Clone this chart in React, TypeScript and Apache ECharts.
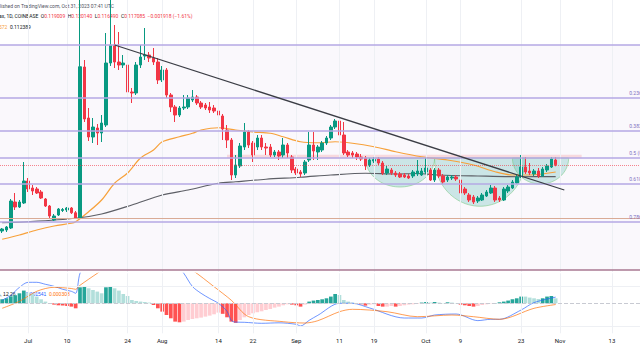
import React, { useEffect, useRef } from 'react';
import * as echarts from 'echarts';

// ---------- data ----------
const FIRST_DAY_UTC = Date.UTC(2023, 5, 25);
const N_CATS = 148;
const tickDates = ['2023-07-01','2023-07-10','2023-07-24','2023-08-01','2023-08-14','2023-08-22','2023-09-01','2023-09-11','2023-09-19','2023-10-01','2023-10-09','2023-10-23','2023-11-01','2023-11-13'];
const tickLabels = ['Jul','10','24','Aug','14','22','Sep','11','19','Oct','9','23','Nov','13'];

// open, close, low, high  (Jun 25 .. Oct 31, 2023)
const candles = [
  [0.0906,0.0914,0.0898,0.0918],[0.0910,0.0922,0.0902,0.0926],[0.0918,0.1026,0.0914,0.1034],[0.1022,0.1002,0.0990,0.1058],
  [0.1002,0.1022,0.0998,0.1030],[0.1018,0.1106,0.1014,0.1182],[0.1106,0.1074,0.1062,0.1118],[0.1078,0.1066,0.1050,0.1090],
  [0.1074,0.1058,0.1054,0.1082],[0.1062,0.1038,0.1034,0.1070],[0.1034,0.1006,0.1002,0.1038],[0.1006,0.0966,0.0958,0.1010],
  [0.0950,0.0966,0.0946,0.0974],[0.0970,0.0994,0.0966,0.0998],[0.0988,0.0992,0.0982,0.0998],[0.0990,0.0998,0.0982,0.1002],
  [0.0998,0.0979,0.0974,0.1002],[0.0979,0.0957,0.0954,0.0986],[0.0957,0.1563,0.0954,0.1860],[0.1562,0.1354,0.1342,0.1590],
  [0.1358,0.1282,0.1266,0.1398],[0.1282,0.1322,0.1258,0.1358],[0.1318,0.1298,0.1250,0.1334],[0.1298,0.1338,0.1262,0.1370],
  [0.1330,0.1578,0.1322,0.1698],[0.1578,0.1650,0.1566,0.1840],[0.1650,0.1582,0.1558,0.1730],[0.1582,0.1570,0.1550,0.1702],
  [0.1570,0.1578,0.1558,0.1610],[0.1570,0.1462,0.1446,0.1590],[0.1462,0.1458,0.1418,0.1478],[0.1458,0.1570,0.1450,0.1582],
  [0.1570,0.1602,0.1558,0.1650],[0.1606,0.1610,0.1590,0.1718],[0.1610,0.1598,0.1582,0.1622],[0.1598,0.1582,0.1570,0.1638],
  [0.1582,0.1510,0.1494,0.1598],[0.1510,0.1550,0.1502,0.1566],[0.1550,0.1450,0.1438,0.1558],[0.1450,0.1402,0.1382,0.1458],
  [0.1402,0.1370,0.1342,0.1410],[0.1370,0.1398,0.1362,0.1406],[0.1398,0.1402,0.1390,0.1450],[0.1402,0.1438,0.1394,0.1450],
  [0.1430,0.1442,0.1422,0.1470],[0.1442,0.1418,0.1410,0.1450],[0.1418,0.1402,0.1394,0.1426],[0.1410,0.1398,0.1390,0.1418],
  [0.1402,0.1390,0.1378,0.1422],[0.1398,0.1386,0.1378,0.1410],[0.1386,0.1370,0.1362,0.1394],[0.1366,0.1314,0.1270,0.1374],
  [0.1310,0.1270,0.1238,0.1330],[0.1270,0.1130,0.1110,0.1278],[0.1130,0.1170,0.1118,0.1210],[0.1166,0.1246,0.1158,0.1258],
  [0.1242,0.1302,0.1230,0.1338],[0.1302,0.1250,0.1238,0.1310],[0.1258,0.1210,0.1182,0.1266],[0.1242,0.1278,0.1230,0.1290],
  [0.1278,0.1242,0.1230,0.1290],[0.1242,0.1238,0.1210,0.1258],[0.1242,0.1210,0.1202,0.1254],[0.1210,0.1222,0.1202,0.1230],
  [0.1222,0.1206,0.1190,0.1230],[0.1210,0.1250,0.1198,0.1278],[0.1250,0.1218,0.1198,0.1258],[0.1202,0.1150,0.1138,0.1210],
  [0.1154,0.1138,0.1130,0.1162],[0.1142,0.1134,0.1122,0.1150],[0.1138,0.1182,0.1130,0.1190],[0.1190,0.1250,0.1182,0.1302],
  [0.1250,0.1226,0.1190,0.1302],[0.1222,0.1242,0.1190,0.1250],[0.1230,0.1258,0.1222,0.1266],[0.1258,0.1278,0.1250,0.1286],
  [0.1278,0.1322,0.1270,0.1330],[0.1322,0.1346,0.1314,0.1354],[0.1346,0.1290,0.1282,0.1358],[0.1290,0.1218,0.1210,0.1342],
  [0.1222,0.1210,0.1202,0.1230],[0.1218,0.1210,0.1198,0.1226],[0.1214,0.1202,0.1190,0.1222],[0.1202,0.1194,0.1186,0.1214],
  [0.1198,0.1166,0.1150,0.1206],[0.1170,0.1190,0.1162,0.1198],[0.1186,0.1192,0.1178,0.1202],[0.1194,0.1178,0.1170,0.1202],
  [0.1178,0.1138,0.1130,0.1186],[0.1138,0.1154,0.1130,0.1166],[0.1150,0.1138,0.1130,0.1158],[0.1138,0.1130,0.1122,0.1146],
  [0.1134,0.1122,0.1118,0.1142],[0.1130,0.1122,0.1118,0.1138],[0.1126,0.1118,0.1114,0.1134],[0.1126,0.1142,0.1118,0.1150],
  [0.1134,0.1146,0.1126,0.1190],[0.1130,0.1146,0.1126,0.1158],[0.1142,0.1158,0.1134,0.1198],[0.1150,0.1110,0.1106,0.1158],
  [0.1110,0.1150,0.1102,0.1158],[0.1150,0.1126,0.1118,0.1158],[0.1126,0.1102,0.1094,0.1134],[0.1110,0.1122,0.1102,0.1130],
  [0.1118,0.1122,0.1110,0.1130],[0.1122,0.1114,0.1106,0.1130],[0.1110,0.1058,0.1050,0.1118],[0.1074,0.1058,0.1050,0.1082],
  [0.1050,0.1030,0.1022,0.1058],[0.1042,0.1022,0.1014,0.1050],[0.1026,0.1038,0.1018,0.1046],[0.1030,0.1050,0.1026,0.1058],
  [0.1046,0.1062,0.1042,0.1070],[0.1058,0.1078,0.1054,0.1090],[0.1078,0.1030,0.1022,0.1086],[0.1038,0.1030,0.1022,0.1046],
  [0.1030,0.1074,0.1026,0.1082],[0.1066,0.1082,0.1058,0.1090],[0.1078,0.1102,0.1074,0.1110],[0.1098,0.1122,0.1094,0.1130],
  [0.1122,0.1162,0.1118,0.1210],[0.1162,0.1142,0.1134,0.1202],[0.1146,0.1138,0.1130,0.1178],[0.1134,0.1146,0.1126,0.1154],
  [0.1146,0.1126,0.1118,0.1158],[0.1126,0.1154,0.1122,0.1162],[0.1150,0.1166,0.1142,0.1174],[0.1162,0.1194,0.1158,0.1202],
  [0.119009,0.117085,0.11649,0.12014],
];

// moving averages (null where not read)
const maOrangePts: [number, number][] = [[0,0.0873],[4,0.0890],[8,0.0910],[12,0.0926],[16,0.0937],[17,0.0943],[20,0.0983],[23,0.1030],[26,0.1097],[29,0.1138],[32,0.1198],[35,0.1230],[37,0.1263],[41,0.1283],[44,0.1297],[46,0.1310],[50,0.1319],[54,0.1310],[58,0.1302],[62,0.1297],[65,0.1283],[69,0.1263],[73,0.1259],[77,0.1263],[81,0.1257],[86,0.1243],[91,0.1223],[97,0.1203],[103,0.1190],[109,0.1170],[114,0.1143],[118,0.1130],[122,0.1130],[128,0.1142]];
const maGrayPts: [number, number][] = [[0,0.0939],[6,0.0943],[17,0.0957],[23,0.0974],[30,0.1010],[37,0.1050],[43,0.1070],[50,0.1097],[54,0.1103],[61,0.1113],[69,0.1121],[76,0.1130],[84,0.1137],[91,0.1134],[96,0.1136],[101,0.1130],[110,0.1126],[120,0.1123],[128,0.112389]];

const trendLine: [number, number][] = [[26, 0.165], [130, 0.107]];

const fibHigh = 0.165;
const fibLow = 0.075;
const fibRatios = [0, 0.236, 0.382, 0.5, 0.618, 0.786, 1];
const extraLevel = 0.0957;
const lastClose = 0.117085;
const zoneTop = 0.1211;
const zoneBottom = 0.1197;
const zoneStart = 52;
const zoneEnd = 134;

// bowls: startIdx, endIdx, rim price, bottom price
const bowls = [
  [84, 100, 0.1198, 0.1082],
  [100, 121, 0.1198, 0.1005],
  [118, 131, 0.1198, 0.1094],
];

const macdHist = [
  0.001,0.00125,0.00175,0.002,0.0025,0.00318,0.00268,0.00233,0.00168,0.001,0.00043,-0.00008,-0.00033,-0.0005,-0.00058,-0.00068,-0.00083,-0.00125,
  0.004,0.00408,0.00375,0.00333,0.00293,0.0025,0.004,0.00408,0.00375,0.00318,0.00233,0.00183,0.00083,0.00058,0.00043,0.00033,0.00018,
  -0.00043,-0.00125,-0.00208,-0.00293,-0.00375,-0.00458,-0.00475,-0.00458,-0.00418,-0.00393,-0.00375,-0.00358,-0.00333,-0.00308,-0.00275,-0.00233,
  -0.00263,-0.0035,-0.00458,-0.00488,-0.00418,-0.0035,-0.00293,-0.0025,-0.00225,-0.002,-0.00168,-0.00143,-0.00108,-0.00083,-0.0005,-0.00025,
  -0.00033,-0.0005,-0.00083,-0.00033,0.00043,0.00068,0.00083,0.001,0.00125,0.00168,0.00233,0.00208,0.00083,0.00043,0.00018,0.00008,
  -0.00025,-0.00058,-0.00033,-0.00025,-0.00068,-0.00083,-0.00083,-0.00068,-0.00083,-0.00068,-0.0005,-0.00033,-0.00025,-0.00018,
  0.00018,0.00033,0.00018,0.00033,0.00018,0.00008,0.00025,0.00018,0.00008,
  -0.00033,-0.0005,-0.00068,-0.00083,-0.00068,-0.00043,-0.00025,-0.00008,
  0.00008,0.00025,0.00043,0.00068,0.001,0.00125,0.00168,0.00168,0.00143,0.00125,0.00108,0.00125,0.00168,0.00183,0.00125,
];
const macdPts: [number, number][] = [[0,0.00075],[2,0.002],[4,0.004],[6,0.00525],[8,0.00525],[10,0.00475],[12,0.00425],[14,0.0035],[16,0.003],[17,0.0025],[18,0.0075],[20,0.01125],[24,0.01375],[30,0.015],[36,0.0125],[40,0.01],[42,0.0075],[44,0.0042],[46,0.0025],[48,0.0012],[50,0],[52,-0.002],[53,-0.0043],[54,-0.0047],[56,-0.00475],[60,-0.005],[64,-0.00488],[68,-0.00525],[69,-0.00568],[71,-0.00425],[73,-0.003],[78,0],[81,0],[85,-0.00118],[93,-0.00368],[97,-0.00368],[100,-0.00293],[105,-0.00268],[110,-0.00433],[113,-0.004],[115,-0.004],[120,-0.00168],[123,0.00018],[128,0.001541]];
const signalPts: [number, number][] = [[0,-0.00125],[4,0.0005],[8,0.003],[12,0.004],[16,0.0037],[17,0.0035],[18,0.0045],[22,0.0075],[26,0.0105],[32,0.0125],[38,0.012],[44,0.00825],[49,0.00415],[53,0.00075],[57,-0.00335],[65,-0.0046],[70,-0.00493],[73,-0.00435],[78,-0.0021],[81,-0.0015],[89,-0.0021],[96,-0.00335],[104,-0.00293],[109,-0.00335],[115,-0.004],[123,-0.00125],[128,-0.000308]];
const macdGridLevels = [0.00415, -0.0057];

// ---------- helpers ----------
function buildDates(): string[] {
  const out: string[] = [];
  for (let i = 0; i < N_CATS; i++) out.push(new Date(FIRST_DAY_UTC + i * 86400000).toISOString().slice(0, 10));
  return out;
}
function sparse(pts: [number, number][]): (number | null)[] {
  const arr: (number | null)[] = new Array(candles.length).fill(null);
  pts.forEach(([i, v]) => { arr[i] = v; });
  return arr;
}

export default function App() {
  const ref = useRef<HTMLDivElement>(null);
  useEffect(() => {
    if (!ref.current) return;
    const chart = echarts.init(ref.current, undefined, { renderer: 'svg' });
    const cats = buildDates();
    const gridL = -2.78, gridW = 646.2;
    const fibPrice = (r: number) => fibHigh - r * (fibHigh - fibLow);
    const fibColor = '#b4a8e4';
    const vGrid = tickDates.map((d) => ({ xAxis: d }));

    const option: any = {
      animation: false,
      backgroundColor: '#ffffff',
      grid: [
        { left: gridL, top: 0, width: gridW, height: 272, containLabel: false },
        { left: gridL, top: 273.3, width: gridW, height: 60, containLabel: false },
      ],
      xAxis: [
        { type: 'category', gridIndex: 0, data: cats, boundaryGap: true, axisLine: { show: false }, axisTick: { show: false }, axisLabel: { show: false }, splitLine: { show: false } },
        {
          type: 'category', gridIndex: 1, data: cats, boundaryGap: true,
          axisLine: { show: false }, axisTick: { show: false }, splitLine: { show: false },
          axisLabel: {
            show: true, margin: 4, fontSize: 6, color: '#131722', fontFamily: 'Roboto',
            interval: (_i: number, v: string) => tickDates.includes(v),
            formatter: (v: string) => tickLabels[tickDates.indexOf(v)] ?? '',
          },
        },
      ],
      yAxis: [
        { type: 'value', gridIndex: 0, min: 0.0742, max: 0.183, show: false, splitLine: { show: false } },
        { type: 'value', gridIndex: 1, min: -0.0075, max: 0.0075, show: false, splitLine: { show: false } },
      ],
      graphic: [
        { type: 'text', x: -9, y: 5.5, silent: true, style: { text: 'Published on TradingView.com, Oct 31, 2023 07:41 UTC', fill: '#50535e', fontSize: 5, fontFamily: 'Roboto', verticalAlign: 'middle' } },
        {
          type: 'text', x: -1, y: 16, silent: true,
          style: {
            text: '{d|ax, 1D, COINBASE}  {d|O}{r|0.119009}  {d|H}{r|0.120140}  {d|L}{r|0.116490}  {d|C}{r|0.117085}  {r|−0.001918 (−1.61%)}',
            fontSize: 5, fontFamily: 'Roboto', verticalAlign: 'middle',
            rich: { d: { fill: '#131722', fontSize: 5, fontFamily: 'Roboto' }, r: { fill: '#f23645', fontSize: 5, fontFamily: 'Roboto' } },
          },
        },
        {
          type: 'text', x: -1, y: 27, silent: true,
          style: {
            text: '{o|572}  {d|0.112389}', fontSize: 5, fontFamily: 'Roboto', verticalAlign: 'middle',
            rich: { d: { fill: '#131722', fontSize: 5, fontFamily: 'Roboto' }, o: { fill: '#f7a13a', fontSize: 5, fontFamily: 'Roboto' } },
          },
        },
        {
          type: 'text', x: -3, y: 293.5, silent: true,
          style: {
            text: '{d|A, 12 26}        {b|0.001541}  {o|0.000308}', fontSize: 5, fontFamily: 'Roboto', verticalAlign: 'middle',
            rich: { d: { fill: '#131722', fontSize: 5 }, b: { fill: '#2962ff', fontSize: 5 }, o: { fill: '#ff6d00', fontSize: 5 } },
          },
        },
      ],
      series: [
        {
          name: 'bg0', type: 'line', xAxisIndex: 0, yAxisIndex: 0, data: [], z: 0, silent: true,
          markArea: { silent: true, precision: 8, itemStyle: { color: 'rgba(149,117,205,0.05)' }, data: [[{ yAxis: fibHigh }, { yAxis: fibLow }]] },
          markLine: { silent: true, precision: 8, symbol: 'none', label: { show: false }, lineStyle: { color: '#eef0f4', width: 1, type: 'solid' }, data: vGrid },
        },
        {
          name: 'fib', type: 'line', xAxisIndex: 0, yAxisIndex: 0, data: [], z: 1, silent: true,
          markArea: { silent: true, precision: 8, itemStyle: { color: 'rgba(242,54,69,0.16)' }, data: [[{ xAxis: cats[zoneStart], yAxis: zoneTop }, { xAxis: cats[zoneEnd], yAxis: zoneBottom }]] },
          markLine: {
            silent: true, precision: 8, symbol: 'none', label: { show: false },
            data: [
              ...fibRatios.map((r) => ({ yAxis: fibPrice(r), lineStyle: { color: r === 1 ? '#a87892' : fibColor, width: 1.7, type: 'solid' } })),
              { yAxis: extraLevel, lineStyle: { color: '#d9ab96', width: 1, type: 'solid' } },
              { yAxis: lastClose, lineStyle: { color: '#f23645', width: 1, type: 'dotted', opacity: 0.6 } },
            ],
          },
          markPoint: {
            silent: true, symbol: 'rect', symbolSize: 0.1, itemStyle: { color: 'rgba(0,0,0,0)' },
            label: { show: true, position: 'right', distance: 0, offset: [0, -5], fontSize: 5, fontFamily: 'Roboto', color: '#7e6fc0', formatter: (p: any) => p.name },
            data: fibRatios.filter((r) => r > 0 && r < 1).map((r) => ({ name: `${r} (${fibPrice(r).toFixed(5)})`, coord: [cats[145], fibPrice(r)] })),
          },
        },
        {
          name: 'bowls', type: 'custom', xAxisIndex: 0, yAxisIndex: 0, z: 2, silent: true, data: bowls,
          renderItem: (_p: any, api: any) => {
            const a = api.coord([api.value(0), api.value(2)]);
            const b = api.coord([api.value(1), api.value(2)]);
            const c = api.coord([api.value(0), api.value(3)]);
            const cx = (a[0] + b[0]) / 2, rx = (b[0] - a[0]) / 2, ry = c[1] - a[1];
            const pts: number[][] = [];
            for (let k = 0; k <= 48; k++) { const t = (Math.PI * k) / 48; pts.push([cx - rx * Math.cos(t), a[1] + ry * Math.sin(t)]); }
            return { type: 'polygon', shape: { points: pts }, style: { fill: 'rgba(38,166,154,0.22)', stroke: 'rgba(120,200,130,0.7)', lineWidth: 0.8 } };
          },
        },
        { name: 'MA orange', type: 'line', xAxisIndex: 0, yAxisIndex: 0, data: sparse(maOrangePts), connectNulls: true, smooth: 0.3, symbol: 'none', lineStyle: { color: '#f7a13a', width: 1.2 }, z: 3 },
        { name: 'MA gray', type: 'line', xAxisIndex: 0, yAxisIndex: 0, data: sparse(maGrayPts), connectNulls: true, smooth: 0.3, symbol: 'none', lineStyle: { color: '#5d5f66', width: 1.2 }, z: 3 },
        {
          name: 'price', type: 'candlestick', xAxisIndex: 0, yAxisIndex: 0, data: candles, barWidth: 3, z: 4, clip: true,
          itemStyle: { color: '#089981', color0: '#f23645', borderColor: '#089981', borderColor0: '#f23645', borderWidth: 1 },
        },
        { name: 'trend', type: 'line', xAxisIndex: 0, yAxisIndex: 0, data: trendLine, symbol: 'none', lineStyle: { color: '#3b3d45', width: 1.3 }, z: 5 },

        {
          name: 'bg1', type: 'line', xAxisIndex: 1, yAxisIndex: 1, data: [], z: 0, silent: true,
          markLine: {
            silent: true, precision: 8, symbol: 'none', label: { show: false },
            data: [
              ...tickDates.map((d) => ({ xAxis: d, lineStyle: { color: '#eef0f4', width: 1, type: 'solid' } })),
              ...macdGridLevels.map((v) => ({ yAxis: v, lineStyle: { color: '#eef0f4', width: 1, type: 'solid' } })),
              { yAxis: 0, lineStyle: { color: '#c8cad2', width: 1, type: 'dashed' } },
            ],
          },
        },
        {
          name: 'hist', type: 'bar', xAxisIndex: 1, yAxisIndex: 1, data: macdHist, barWidth: '85%', z: 2,
          itemStyle: {
            color: (p: any) => {
              const i = p.dataIndex; const v = macdHist[i]; const prev = i > 0 ? macdHist[i - 1] : 0;
              if (v >= 0) return v > prev ? '#26a69a' : '#b2dfdb';
              return v < prev ? '#ff5252' : '#ffcdd2';
            },
          },
        },
        { name: 'MACD', type: 'line', xAxisIndex: 1, yAxisIndex: 1, data: sparse(macdPts), connectNulls: true, smooth: 0.3, symbol: 'none', lineStyle: { color: '#2962ff', width: 0.9, opacity: 0.75 }, z: 3 },
        { name: 'Signal', type: 'line', xAxisIndex: 1, yAxisIndex: 1, data: sparse(signalPts), connectNulls: true, smooth: 0.3, symbol: 'none', lineStyle: { color: '#ff6d00', width: 0.9, opacity: 0.75 }, z: 3 },
      ],
    };
    chart.setOption(option);
    return () => chart.dispose();
  }, []);
  return <div ref={ref} style={{ position: 'fixed', left: 0, top: 0, width: 640, height: 360, background: '#fff' }} />;
}
